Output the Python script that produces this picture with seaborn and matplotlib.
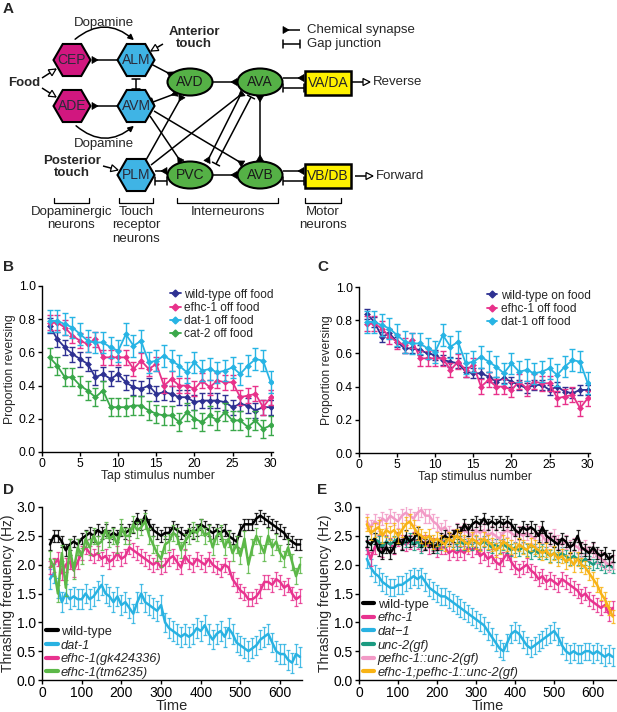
import numpy as np
import pandas as pd
import matplotlib
matplotlib.use("Agg")
import matplotlib.pyplot as plt
import seaborn as sns
from matplotlib.patches import RegularPolygon, Ellipse, Rectangle, Polygon, FancyArrowPatch
from matplotlib.lines import Line2D

sns.set_style("ticks")
plt.rcParams["font.family"] = ["Liberation Sans", "DejaVu Sans"]

# ---------------- data: B / C (tap habituation) ----------------
tap = np.arange(1, 31)
wt_off = [0.76, 0.68, 0.63, 0.59, 0.56, 0.53, 0.45, 0.47, 0.44, 0.47,
          0.42, 0.39, 0.38, 0.40, 0.35, 0.36, 0.35, 0.33, 0.33, 0.30,
          0.31, 0.31, 0.31, 0.30, 0.27, 0.29, 0.28, 0.25, 0.27, 0.27]
efhc_off = [0.78, 0.78, 0.75, 0.70, 0.67, 0.65, 0.68, 0.57, 0.57, 0.57,
            0.57, 0.50, 0.55, 0.50, 0.53, 0.40, 0.44, 0.40, 0.40, 0.38,
            0.43, 0.39, 0.43, 0.42, 0.42, 0.33, 0.34, 0.35, 0.27, 0.33]
dat_off = [0.79, 0.79, 0.77, 0.75, 0.71, 0.67, 0.66, 0.66, 0.63, 0.61,
           0.71, 0.64, 0.67, 0.54, 0.55, 0.58, 0.55, 0.52, 0.48, 0.54,
           0.49, 0.50, 0.48, 0.49, 0.51, 0.47, 0.52, 0.56, 0.55, 0.42]
cat2_off = [0.57, 0.52, 0.45, 0.45, 0.40, 0.37, 0.33, 0.37, 0.27, 0.27,
            0.27, 0.28, 0.28, 0.25, 0.23, 0.22, 0.22, 0.18, 0.24, 0.20,
            0.18, 0.22, 0.19, 0.24, 0.19, 0.19, 0.15, 0.19, 0.14, 0.16]
wt_on = [0.84, 0.79, 0.70, 0.72, 0.67, 0.63, 0.63, 0.62, 0.60, 0.59,
         0.56, 0.55, 0.54, 0.49, 0.48, 0.48, 0.46, 0.43, 0.45, 0.43,
         0.41, 0.39, 0.41, 0.41, 0.38, 0.40, 0.37, 0.36, 0.38, 0.38]
sem_wt_off, sem_efhc, sem_dat, sem_cat2, sem_wt_on = 0.045, 0.045, 0.065, 0.055, 0.03

# ---------------- data: D / E (thrashing, every 10 s) ----------------
t_swim = np.arange(20, 660, 10)
d_wt = [2.35, 2.5, 2.5, 2.4, 2.25, 2.35, 2.4, 2.35, 2.45, 2.5,
        2.55, 2.5, 2.6, 2.55, 2.6, 2.5, 2.55, 2.5, 2.6, 2.55,
        2.6, 2.65, 2.8, 2.7, 2.85, 2.7, 2.6, 2.55, 2.5, 2.55,
        2.55, 2.65, 2.6, 2.55, 2.5, 2.6, 2.55, 2.6, 2.7, 2.65,
        2.6, 2.55, 2.6, 2.55, 2.6, 2.5, 2.45, 2.4, 2.6, 2.7,
        2.7, 2.7, 2.8, 2.85, 2.8, 2.75, 2.7, 2.65, 2.6, 2.55,
        2.45, 2.4, 2.35, 2.35]
d_dat = [1.75, 1.85, 1.6, 1.35, 1.5, 1.4, 1.45, 1.4, 1.4, 1.5,
         1.4, 1.45, 1.55, 1.65, 1.5, 1.45, 1.35, 1.45, 1.3, 1.35,
         1.25, 1.15, 1.35, 1.5, 1.35, 1.3, 1.25, 1.2, 1.3, 1.0,
         0.9, 0.85, 0.8, 0.75, 0.8, 0.75, 0.8, 0.9, 0.85, 0.95,
         0.8, 0.7, 0.8, 0.85, 0.75, 0.9, 0.8, 0.65, 0.6, 0.55,
         0.5, 0.55, 0.6, 0.7, 0.75, 0.8, 0.65, 0.5, 0.45, 0.45,
         0.35, 0.3, 0.45, 0.4]
d_gk = [1.95, 2.0, 2.1, 1.85, 2.0, 2.05, 1.9, 2.05, 2.2, 2.3,
        2.2, 2.15, 2.2, 2.1, 2.15, 2.05, 2.1, 2.2, 2.1, 2.15,
        2.3, 2.25, 2.2, 2.15, 2.1, 2.05, 2.0, 2.05, 1.95, 2.0,
        2.1, 2.15, 2.05, 1.95, 2.15, 2.05, 2.0, 2.1, 2.05, 2.0,
        2.1, 2.0, 1.95, 1.9, 2.0, 1.95, 1.75, 1.65, 1.55, 1.5,
        1.4, 1.4, 1.45, 1.55, 1.7, 1.7, 1.65, 1.75, 1.7, 1.6,
        1.65, 1.5, 1.4, 1.45]
d_tm = [2.1, 1.95, 1.5, 2.2, 1.6, 2.3, 1.9, 2.3, 2.15, 2.45,
        2.3, 2.5, 2.35, 2.4, 2.6, 2.45, 2.5, 2.35, 2.65, 2.5,
        2.5, 2.7, 2.6, 2.65, 2.75, 2.5, 2.35, 2.2, 2.1, 2.35,
        2.4, 2.55, 2.5, 2.25, 2.4, 2.5, 2.6, 2.55, 2.65, 2.5,
        2.55, 2.3, 2.5, 2.55, 2.3, 2.45, 2.2, 2.35, 2.15, 2.45,
        2.0, 2.3, 2.5, 2.35, 2.2, 2.5, 2.3, 2.4, 2.2, 2.1,
        2.3, 2.05, 1.8, 2.0]

e_wt = [2.4, 2.35, 2.45, 2.25, 2.2, 2.3, 2.2, 2.3, 2.45, 2.35,
        2.5, 2.4, 2.45, 2.55, 2.4, 2.35, 2.4, 2.3, 2.35, 2.45,
        2.5, 2.45, 2.5, 2.6, 2.55, 2.7, 2.6, 2.7, 2.75, 2.7,
        2.8, 2.7, 2.75, 2.7, 2.75, 2.7, 2.75, 2.7, 2.6, 2.55,
        2.65, 2.6, 2.65, 2.6, 2.5, 2.65, 2.5, 2.45, 2.4, 2.35,
        2.45, 2.4, 2.3, 2.35, 2.5, 2.3, 2.25, 2.2, 2.3, 2.2,
        2.15, 2.2, 2.1, 2.15]
e_efhc = [2.3, 2.1, 2.3, 2.4, 2.25, 2.4, 2.35, 2.3, 2.45, 2.4,
          2.35, 2.4, 2.45, 2.4, 2.35, 2.4, 2.3, 2.35, 2.25, 2.3,
          2.3, 2.2, 2.25, 2.2, 2.25, 2.2, 2.3, 2.25, 2.3, 2.15,
          2.2, 2.1, 2.15, 2.05, 2.0, 2.1, 2.2, 2.05, 1.95, 1.9,
          1.95, 2.0, 1.9, 1.85, 1.75, 1.8, 1.7, 1.75, 1.7, 1.65,
          1.75, 1.7, 1.65, 1.6, 1.55, 1.45, 1.5, 1.4, 1.35, 1.3,
          1.25, 1.3, 1.15, 1.25]
e_dat = [2.1, 1.95, 1.85, 1.8, 1.7, 1.65, 1.6, 1.6, 1.65, 1.65,
         1.7, 1.75, 1.8, 1.75, 1.8, 1.7, 1.6, 1.55, 1.5, 1.45,
         1.45, 1.4, 1.35, 1.3, 1.25, 1.2, 1.15, 1.1, 1.05, 1.0,
         0.95, 0.85, 0.75, 0.65, 0.55, 0.5, 0.65, 0.8, 0.85, 0.8,
         0.7, 0.6, 0.55, 0.6, 0.65, 0.7, 0.75, 0.8, 0.85, 0.75,
         0.6, 0.5, 0.45, 0.5, 0.45, 0.45, 0.5, 0.5, 0.45, 0.5,
         0.45, 0.4, 0.45, 0.4]
e_unc2 = [2.4, 2.35, 2.45, 2.4, 2.3, 2.4, 2.35, 2.4, 2.45, 2.35,
          2.4, 2.45, 2.35, 2.4, 2.3, 2.35, 2.4, 2.35, 2.3, 2.35,
          2.4, 2.45, 2.4, 2.35, 2.4, 2.35, 2.4, 2.35, 2.4, 2.35,
          2.4, 2.35, 2.3, 2.35, 2.3, 2.35, 2.3, 2.25, 2.3, 2.25,
          2.3, 2.25, 2.2, 2.25, 2.2, 2.25, 2.2, 2.15, 2.2, 2.15,
          2.2, 2.15, 2.1, 2.15, 2.1, 2.05, 2.1, 2.05, 2.0, 2.05,
          2.0, 1.95, 2.0, 1.95]
e_pefhc = [2.75, 2.65, 2.75, 2.7, 2.8, 2.75, 2.85, 2.8, 2.75, 2.85,
           2.9, 2.85, 2.8, 2.9, 2.95, 2.85, 2.85, 2.75, 2.7, 2.6,
           2.65, 2.55, 2.5, 2.6, 2.55, 2.6, 2.55, 2.5, 2.6, 2.55,
           2.6, 2.5, 2.55, 2.5, 2.45, 2.55, 2.6, 2.55, 2.5, 2.55,
           2.5, 2.55, 2.5, 2.45, 2.55, 2.5, 2.4, 2.45, 2.5, 2.4,
           2.35, 2.4, 2.3, 2.35, 2.3, 2.25, 2.3, 2.2, 2.25, 2.15,
           2.1, 2.05, 2.0, 2.05]
e_double = [2.7, 2.55, 2.6, 2.65, 2.5, 2.6, 2.55, 2.6, 2.5, 2.6,
            2.7, 2.75, 2.65, 2.55, 2.5, 2.45, 2.5, 2.4, 2.45, 2.4,
            2.35, 2.45, 2.4, 2.5, 2.45, 2.4, 2.35, 2.45, 2.4, 2.35,
            2.45, 2.4, 2.35, 2.25, 2.3, 2.4, 2.35, 2.3, 2.25, 2.35,
            2.3, 2.25, 2.35, 2.3, 2.25, 2.2, 2.25, 2.15, 2.2, 2.1,
            2.15, 2.05, 2.1, 2.0, 2.1, 2.0, 1.95, 1.85, 1.75, 1.65,
            1.5, 1.4, 1.25, 1.1]

navy, pink, cyan, green = "#2e3192", "#e8318a", "#27b4e4", "#3aa84a"
k_col, dpink, dcyan, dgreen = "#000000", "#e8338f", "#29b2e2", "#5cb848"
teal, lpink, orange = "#1a9a80", "#f29ac6", "#f8b315"

fig = plt.figure(figsize=(6.17, 7.12), dpi=100)
W, H = 617.0, 712.0


def panel_axes(x0, y0, x1, y1):
    return fig.add_axes([x0 / W, 1 - y1 / H, (x1 - x0) / W, (y1 - y0) / H])


# ---------------- A: circuit diagram ----------------
axA = fig.add_axes([0, 1 - 245 / H, 1, 245 / H])
axA.set_xlim(0, W)
axA.set_ylim(245, 0)
axA.axis("off")


def link(p, q, start=None, end=None):
    p, q = np.array(p, float), np.array(q, float)
    axA.plot([p[0], q[0]], [p[1], q[1]], color="k", lw=1.1, solid_capstyle="butt", zorder=2)
    for kind, a, b in ((start, q, p), (end, p, q)):
        if kind is None:
            continue
        u = (b - a) / np.hypot(*(b - a))
        n = np.array([-u[1], u[0]])
        if kind == "tri":
            axA.add_patch(Polygon([b + 3.5 * n, b - 3.5 * n, b - 6 * u], closed=True,
                                  fc="k", ec="k", lw=0.5, zorder=3))
        elif kind == "bar":
            axA.plot([b[0] + 4 * n[0], b[0] - 4 * n[0]], [b[1] + 4 * n[1], b[1] - 4 * n[1]],
                     color="k", lw=1.1, zorder=3)
        elif kind == "open":
            axA.add_patch(Polygon([b, b - 7 * u + 3.5 * n, b - 7 * u - 3.5 * n], closed=True,
                                  fc="white", ec="k", lw=0.9, zorder=3))


hexes = {"CEP": (72, 60, "#d1177f"), "ADE": (72, 106, "#d1177f"),
         "ALM": (136, 60, "#3fb4e5"), "AVM": (136, 106, "#3fb4e5"), "PLM": (136, 175, "#3fb4e5")}
for name, (x, y, c) in hexes.items():
    axA.add_patch(RegularPolygon((x, y), numVertices=6, radius=18.5, orientation=np.pi / 6,
                                 fc=c, ec="k", lw=1.5, zorder=4))
    axA.text(x, y, name, ha="center", va="center", fontsize=10, color="#2a2a3a", zorder=5)

ovals = {"AVD": (190, 82), "AVA": (260, 82), "PVC": (190, 175), "AVB": (260, 175)}
for name, (x, y) in ovals.items():
    axA.add_patch(Ellipse((x, y), 45, 27, fc="#55b146", ec="k", lw=1.5, zorder=4))
    axA.text(x, y, name, ha="center", va="center", fontsize=10, color="#1a1a1a", zorder=5)

for name, (x, y) in {"VA/DA": (328, 83), "VB/DB": (328, 176)}.items():
    axA.add_patch(Rectangle((x - 23, y - 12), 46, 24, fc="#fff200", ec="k", lw=1.8, zorder=4))
    axA.text(x, y, name, ha="center", va="center", fontsize=10, zorder=5)

link((117, 60), (92, 60), end="tri")
link((117, 106), (92, 106), end="tri")
link((136, 79), (136, 89), "bar", "bar")
link((151, 64), (172, 75), end="tri")
link((153, 102), (177, 93), "bar", "tri")
link((213, 82), (237, 82), end="tri")
link((150, 116), (181, 162), end="tri")
link((154, 111), (243, 164), end="tri")
link((146, 160), (182, 96), end="tri")
link((151, 165), (243, 93), end="tri")
link((155, 171), (167, 171), end="tri")
link((155, 181), (167, 181), "bar", "bar")
link((240, 96), (207, 162), end="tri")
link((251, 97), (216, 164), "bar", "bar")
link((260, 96), (260, 161), "tri", "tri")
link((213, 175), (237, 175), end="tri")
link((283, 78), (304, 78), end="tri")
link((283, 88), (304, 88), "bar", "bar")
link((283, 171), (304, 171), end="tri")
link((283, 181), (304, 181), "bar", "bar")
link((352, 82), (370, 82), end="open")
link((355, 176), (373, 176), end="open")
link((42, 78), (56, 69), end="open")
link((42, 88), (56, 97), end="open")
link((163, 44), (151, 51), end="open")
link((103, 166), (118, 170), end="open")
link((300, 30), (283, 30), end="tri")
link((283, 44), (300, 44), "bar", "bar")

for a, b, rad in (((73, 41), (136, 42), -0.45), ((74, 124), (136, 124), 0.45)):
    axA.add_patch(FancyArrowPatch(a, b, connectionstyle=f"arc3,rad={rad}", arrowstyle="-|>",
                                  mutation_scale=8, lw=1.1, color="k", zorder=2))

txt = dict(ha="center", va="center", fontsize=9.5)
axA.text(104, 23, "Dopamine", **txt)
axA.text(104, 144, "Dopamine", **txt)
axA.text(24, 83, "Food", fontweight="bold", **txt)
axA.text(194, 38, "Anterior\ntouch", fontweight="bold", linespacing=1.0, **txt)
axA.text(72, 167, "Posterior\ntouch", fontweight="bold", linespacing=1.0, **txt)
axA.text(307, 30, "Chemical synapse", ha="left", va="center", fontsize=9.5)
axA.text(307, 44, "Gap junction", ha="left", va="center", fontsize=9.5)
axA.text(373, 82, "Reverse", ha="left", va="center", fontsize=9.5)
axA.text(376, 176, "Forward", ha="left", va="center", fontsize=9.5)
for x0, x1, label in ((54, 89, "Dopaminergic\nneurons"), (119, 153, "Touch\nreceptor\nneurons"),
                      (177, 278, "Interneurons"), (305, 341, "Motor\nneurons")):
    axA.plot([x0, x0, x1, x1], [198, 203, 203, 198], color="k", lw=0.9)
    axA.text((x0 + x1) / 2, 206, label, ha="center", va="top", fontsize=9.5, linespacing=1.15)
axA.text(3, 9, "A", fontsize=11, fontweight="bold", va="center")


# ---------------- B / C ----------------
def style(ax, tick_size):
    sns.despine(ax=ax)
    ax.tick_params(direction="out", length=3, width=1, labelsize=tick_size, pad=1.5, colors="k")
    for s in ("left", "bottom"):
        ax.spines[s].set_linewidth(1)
        ax.spines[s].set_color("k")


def habituation(ax, series):
    handles = []
    for label, vals, sem, color in series:
        df = pd.DataFrame({"tap": tap, "p": vals})
        ax.errorbar(tap, vals, yerr=sem, fmt="none", ecolor=color, elinewidth=1, capsize=2, capthick=1)
        sns.lineplot(data=df, x="tap", y="p", color=color, marker="D", markersize=3.5,
                     markeredgewidth=0, lw=1.3, ax=ax)
        handles.append(Line2D([], [], color=color, marker="D", markersize=3.5, lw=1.3, label=label))
    ax.set_xlim(0, 30.3)
    ax.set_ylim(0, 1.0)
    ax.set_xticks(range(0, 31, 5))
    ax.set_yticks(np.arange(0, 1.01, 0.2))
    ax.yaxis.set_major_formatter(matplotlib.ticker.FormatStrFormatter("%.1f"))
    ax.set_xlabel("Tap stimulus number", fontsize=8.8, labelpad=0)
    ax.set_ylabel("Proportion reversing", fontsize=8.7, labelpad=2)
    ax.legend(handles=handles, loc="upper right", frameon=False, fontsize=8.6, handlelength=0.9,
              handletextpad=0.3, labelspacing=0.1, borderaxespad=0.1, bbox_to_anchor=(1.03, 1.02))
    style(ax, 8.8)


axB = panel_axes(42, 286, 273, 452)
habituation(axB, [("wild-type off food", wt_off, sem_wt_off, navy),
                  ("efhc-1 off food", efhc_off, sem_efhc, pink),
                  ("dat-1 off food", dat_off, sem_dat, cyan),
                  ("cat-2 off food", cat2_off, sem_cat2, green)])
axC = panel_axes(359, 287, 590, 453)
habituation(axC, [("wild-type on food", wt_on, sem_wt_on, navy),
                  ("efhc-1 off food", efhc_off, sem_efhc, pink),
                  ("dat-1 off food", dat_off, sem_dat, cyan)])
fig.text(3 / W, 1 - 267 / H, "B", fontsize=11, fontweight="bold", va="center")
fig.text(317 / W, 1 - 267 / H, "C", fontsize=11, fontweight="bold", va="center")


# ---------------- D / E ----------------
def thrashing(ax, series, draw_order, xmax):
    for i in draw_order:
        label, vals, sem, color = series[i]
        ax.errorbar(t_swim, vals, yerr=sem, fmt="none", ecolor=color, elinewidth=0.9,
                    capsize=1.2, capthick=0.9, alpha=0.85)
        sns.lineplot(x=t_swim, y=vals, color=color, lw=1.8, ax=ax)
    handles = [Line2D([], [], color=c, lw=3) for _, _, _, c in series]
    leg = ax.legend(handles, [s[0] for s in series], loc="lower left", frameon=False, fontsize=9.3,
                    handlelength=0.9, handletextpad=0.25, labelspacing=0.12,
                    borderaxespad=0.0, borderpad=0.1, bbox_to_anchor=(0.01, 0.0))
    for j, t in enumerate(leg.get_texts()):
        if j > 0:
            t.set_fontstyle("italic")
    ax.set_xlim(0, xmax)
    ax.set_ylim(0, 3.0)
    ax.set_xticks(range(0, 601, 100))
    ax.set_yticks(np.arange(0, 3.01, 0.5))
    ax.yaxis.set_major_formatter(matplotlib.ticker.FormatStrFormatter("%.1f"))
    ax.set_xlabel("Time", fontsize=10.5, labelpad=-1)
    ax.set_ylabel("Thrashing frequency (Hz)", fontsize=10, labelpad=1)
    style(ax, 10)


axD = panel_axes(42, 507, 302, 680)
thrashing(axD, [("wild-type", d_wt, 0.1, k_col),
                ("dat-1", d_dat, 0.17, dcyan),
                ("efhc-1(gk424336)", d_gk, 0.12, dpink),
                ("efhc-1(tm6235)", d_tm, 0.14, dgreen)], [1, 2, 0, 3], 655)
axE = panel_axes(359, 507, 617, 680)
thrashing(axE, [("wild-type", e_wt, 0.1, k_col),
                ("efhc-1", e_efhc, 0.12, dpink),
                ("dat\u22121", e_dat, 0.15, dcyan),
                ("unc-2(gf)", e_unc2, 0.1, teal),
                ("pefhc-1::unc-2(gf)", e_pefhc, 0.12, lpink),
                ("efhc-1;pefhc-1::unc-2(gf)", e_double, 0.12, orange)], [2, 1, 3, 4, 0, 5], 661)
fig.text(3 / W, 1 - 490 / H, "D", fontsize=11, fontweight="bold", va="center")
fig.text(317 / W, 1 - 490 / H, "E", fontsize=11, fontweight="bold", va="center")

fig.savefig("out.png", dpi=100)
